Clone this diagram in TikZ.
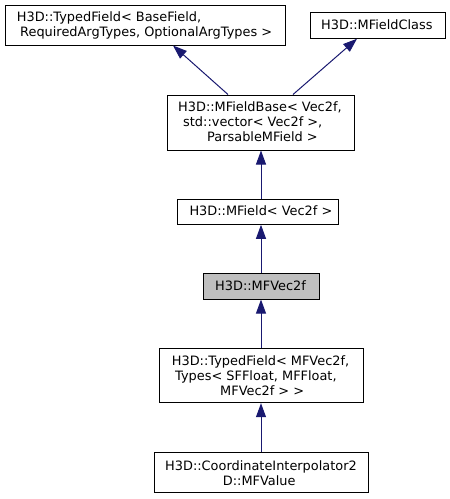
\documentclass[tikz,border=0pt]{standalone}
\usepackage{fontspec}
\setmainfont{DejaVu Sans}
\usetikzlibrary{arrows.meta}
\definecolor{navy}{HTML}{191970}
\definecolor{grayfill}{HTML}{BFBFBF}
\begin{document}
\begin{tikzpicture}[x=1pt,y=-1pt,
  box/.style={draw=black,line width=1pt,fill=white,inner sep=0pt,minimum width=#1},
  lbl/.style={inner sep=0pt,anchor=base west,font=\fontsize{12.9}{15}\selectfont},
  arr/.style={draw=navy,line width=1pt,-{Triangle[length=14pt,width=10pt]}}]
\useasboundingbox (0,0) rectangle (450,499);
% boxes
\node[box=280pt,minimum height=40pt] (tf1) at (145,25) {};
\node[box=135pt,minimum height=25.5pt] (mfc) at (377.5,25.5) {};
\node[box=187pt,minimum height=55pt] (mfb) at (260.5,122.5) {};
\node[box=161pt,minimum height=25pt] (mf) at (257.8,211.8) {};
\node[box=115.7pt,minimum height=25.7pt,fill=grayfill] (mfv) at (261.2,286.2) {};
\node[box=204pt,minimum height=54.4pt] (tf2) at (261.3,375.5) {};
\node[box=214pt,minimum height=40.4pt] (ci) at (261.3,472.5) {};
% labels
\node[lbl] (tf1a) at (16.7,21.7) {H3D::TypedField< BaseField,};
\node[lbl] (tf1b) at (20,36.7) {RequiredArgTypes, OptionalArgTypes >};
\node[lbl] (mfca) at (321,29.5) {H3D::MFieldClass};
\node[lbl] (mfba) at (178,111.7) {H3D::MFieldBase< Vec2f,};
\node[lbl] (mfbb) at (183,126.7) {std::vector< Vec2f >,};
\node[lbl] (mfbc) at (207,141.7) {ParsableMField >};
\node[lbl] (mfa) at (189.3,215.5) {H3D::MField< Vec2f >};
\node[lbl] (mfva) at (215,290.5) {H3D::MFVec2f};
\node[lbl] (tf2a) at (171.7,365) {H3D::TypedField< MFVec2f,};
\node[lbl] (tf2b) at (175,380) {Types< SFFloat, MFFloat,};
\node[lbl] (tf2c) at (220,395) {MFVec2f > >};
\node[lbl] (cia) at (165,470.7) {H3D::CoordinateInterpolator2};
\node[lbl] (cib) at (222.7,485.7) {D::MFValue};
% connectors
\draw[arr] ([xshift=-32.5pt]mfb.north) -- ([xshift=28pt]tf1.south);
\draw[arr] ([xshift=32.5pt]mfb.north) -- ([xshift=-20.5pt]mfc.south);
\draw[arr] (mf.north -| 261,0) -- (mfb.south -| 261,0);
\draw[arr] (mfv.north -| 261,0) -- (mf.south -| 261,0);
\draw[arr] (tf2.north -| 261,0) -- (mfv.south -| 261,0);
\draw[arr] (ci.north -| 261,0) -- (tf2.south -| 261,0);
\end{tikzpicture}
\end{document}
